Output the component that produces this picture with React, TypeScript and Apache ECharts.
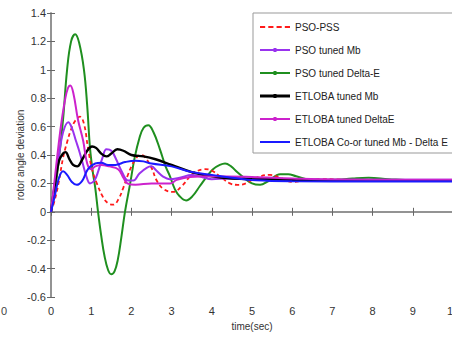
import React, { useEffect, useRef } from "react";
import * as echarts from "echarts";

const seriesNames = [
  "PSO-PSS",
  "PSO tuned Mb",
  "PSO tuned Delta-E",
  "ETLOBA tuned Mb",
  "ETLOBA tuned DeltaE",
  "ETLOBA Co-or tuned Mb - Delta E",
];

const psoPss: number[][] = [
  [0, 0], [0.1, 0.09], [0.2, 0.22], [0.3, 0.38], [0.4, 0.49], [0.5, 0.58], [0.6, 0.64], [0.72, 0.67],
  [0.82, 0.62], [0.92, 0.45], [1.02, 0.3], [1.14, 0.2], [1.3, 0.1], [1.42, 0.06], [1.55, 0.05],
  [1.68, 0.09], [1.8, 0.17], [1.9, 0.25], [2.0, 0.32], [2.1, 0.37], [2.22, 0.4], [2.32, 0.39],
  [2.5, 0.31], [2.63, 0.22], [2.8, 0.16], [3.04, 0.14], [3.25, 0.18], [3.54, 0.27], [3.83, 0.3],
  [4.0, 0.29], [4.2, 0.25], [4.45, 0.2], [4.65, 0.19], [4.85, 0.2], [5.1, 0.24], [5.45, 0.26],
  [5.7, 0.24], [6.0, 0.21], [6.3, 0.22], [6.7, 0.23], [7.5, 0.225], [8.5, 0.225], [10, 0.225],
];

const psoMb: number[][] = [
  [0, 0], [0.1, 0.2], [0.2, 0.4], [0.3, 0.56], [0.43, 0.63], [0.52, 0.59], [0.62, 0.5], [0.7, 0.43],
  [0.78, 0.35], [0.88, 0.25], [0.97, 0.2], [1.08, 0.22], [1.18, 0.29], [1.28, 0.38], [1.38, 0.44],
  [1.5, 0.43], [1.62, 0.37], [1.75, 0.29], [1.92, 0.22], [2.05, 0.22], [2.2, 0.27], [2.38, 0.31],
  [2.5, 0.32], [2.62, 0.29], [2.78, 0.25], [2.95, 0.23], [3.2, 0.24], [3.5, 0.26], [3.75, 0.245],
  [4.0, 0.23], [4.4, 0.235], [5, 0.235], [6, 0.23], [8, 0.225], [10, 0.225],
];

const psoDeltaE: number[][] = [
  [0, 0], [0.1, 0.15], [0.2, 0.38], [0.3, 0.65], [0.4, 1.0], [0.5, 1.2], [0.6, 1.25], [0.7, 1.19],
  [0.82, 1.0], [0.9, 0.75], [0.97, 0.45], [1.04, 0.28], [1.1, 0.17], [1.17, 0.0], [1.25, -0.17],
  [1.33, -0.31], [1.42, -0.41], [1.5, -0.44], [1.58, -0.42], [1.66, -0.34], [1.75, -0.18],
  [1.84, 0.0], [1.97, 0.2], [2.08, 0.38], [2.2, 0.52], [2.3, 0.59], [2.42, 0.61], [2.55, 0.56],
  [2.71, 0.44], [2.85, 0.32], [2.96, 0.25], [3.08, 0.16], [3.2, 0.11], [3.36, 0.08], [3.52, 0.11],
  [3.7, 0.18], [3.88, 0.25], [4.03, 0.3], [4.2, 0.33], [4.33, 0.34], [4.48, 0.32], [4.63, 0.28],
  [4.8, 0.24], [5.0, 0.2], [5.2, 0.19], [5.4, 0.215], [5.7, 0.265], [5.9, 0.265], [6.1, 0.25],
  [6.5, 0.225], [7.0, 0.225], [7.5, 0.235], [7.9, 0.24], [8.4, 0.23], [9, 0.222], [10, 0.222],
];

const etlobaMb: number[][] = [
  [0, 0], [0.1, 0.2], [0.2, 0.36], [0.3, 0.41], [0.36, 0.42], [0.46, 0.37], [0.55, 0.33],
  [0.65, 0.32], [0.78, 0.37], [0.9, 0.43], [1.02, 0.46], [1.12, 0.45], [1.25, 0.41], [1.38, 0.39],
  [1.5, 0.41], [1.65, 0.44], [1.8, 0.43], [2.0, 0.4], [2.3, 0.39], [2.6, 0.37], [3.0, 0.33],
  [3.5, 0.28], [4.0, 0.25], [4.5, 0.235], [5, 0.23], [6, 0.225], [8, 0.22], [10, 0.22],
];

const etlobaDeltaE: number[][] = [
  [0, 0], [0.1, 0.25], [0.2, 0.5], [0.27, 0.65], [0.35, 0.79], [0.42, 0.87], [0.48, 0.89],
  [0.56, 0.83], [0.67, 0.65], [0.8, 0.5], [0.9, 0.34], [1.0, 0.3], [1.1, 0.32], [1.25, 0.33],
  [1.45, 0.32], [1.67, 0.3], [1.8, 0.24], [1.9, 0.2], [2.1, 0.19], [2.5, 0.2], [2.96, 0.2],
  [3.13, 0.225], [3.46, 0.245], [4, 0.25], [5, 0.245], [6, 0.235], [7, 0.228], [10, 0.225],
];

const etlobaCoor: number[][] = [
  [0, 0], [0.1, 0.12], [0.2, 0.24], [0.3, 0.285], [0.4, 0.26], [0.52, 0.21], [0.64, 0.19],
  [0.78, 0.22], [0.92, 0.3], [1.1, 0.34], [1.25, 0.345], [1.42, 0.33], [1.6, 0.33], [1.84, 0.35],
  [2.1, 0.36], [2.3, 0.355], [2.5, 0.34], [3.0, 0.32], [3.5, 0.28], [4.0, 0.26], [4.5, 0.24],
  [5.1, 0.222], [6, 0.215], [8, 0.213], [10, 0.213],
];

const seriesData = [psoPss, psoMb, psoDeltaE, etlobaMb, etlobaDeltaE, etlobaCoor];
const seriesColors = ["#ff1a1a", "#9933ee", "#1f8f1f", "#000000", "#cc22cc", "#1a1aff"];
const seriesWidths = [1.8, 2, 2, 2.4, 2, 2];

const xTicks = { min: 0, max: 10, interval: 1 };
const yTicks = { min: -0.6, max: 1.4, interval: 0.2 };

const iconDashed = "path://M0 0H5V2H0Z M8 0H13V2H8Z M16 0H21V2H16Z M24 0H29V2H24Z";
const iconDot = "path://M0 1H30V3H0Z M13.5 0H16.5V4H13.5Z";
const iconThick = "path://M0 0.5H30V3.5H0Z M13.5 0H16.5V4H13.5Z";
const iconSolid = "path://M0 1H30V3H0Z M0 0H0.01V4H0Z";
const legendIcons = [iconDashed, iconDot, iconDot, iconThick, iconDot, iconSolid];

export default function App() {
  const ref = useRef<HTMLDivElement>(null);
  useEffect(() => {
    if (!ref.current) return;
    const chart = echarts.init(ref.current, null, { renderer: "svg" });
    const axisLine = { show: true, lineStyle: { color: "#8c8c8c", width: 1.5 } };
    const axisTick = { show: true, inside: true, length: 4, lineStyle: { color: "#666" } };
    const labelStyle = { color: "#333", fontSize: 11, fontFamily: "Liberation Sans, Arial, sans-serif" };
    chart.setOption({
      animation: false,
      backgroundColor: "#ffffff",
      grid: { left: 51, top: 13, width: 402, height: 284, containLabel: false, outerBoundsMode: "none" },
      legend: {
        left: 253,
        top: 13,
        orient: "vertical",
        itemWidth: 30,
        itemHeight: 4,
        itemGap: 13,
        padding: [9, 20, 6, 7],
        backgroundColor: "#ffffff",
        borderColor: "#999",
        borderWidth: 1,
        textStyle: { color: "#222", fontSize: 10, fontFamily: "Liberation Sans, Arial, sans-serif" },
        data: seriesNames.map((name, i) => ({ name, icon: legendIcons[i] })),
      },
      xAxis: [
        {
          type: "value",
          ...xTicks,
          name: "time(sec)",
          nameLocation: "middle",
          nameGap: 24,
          nameMoveOverlap: false,
          nameTextStyle: { ...labelStyle, fontSize: 10 },
          axisLine,
          axisTick,
          axisLabel: { ...labelStyle, margin: 8 },
          splitLine: { show: false },
        },
        {
          type: "value",
          ...xTicks,
          position: "top",
          axisLine,
          axisTick,
          axisLabel: { show: false },
          splitLine: { show: false },
        },
      ],
      yAxis: [
        {
          type: "value",
          ...yTicks,
          name: "rotor angle deviation",
          nameLocation: "middle",
          nameGap: 26,
          nameMoveOverlap: false,
          nameTextStyle: { ...labelStyle, fontSize: 10 },
          axisLine,
          axisTick,
          axisLabel: { ...labelStyle, margin: 5 },
          splitLine: { show: false },
        },
        {
          type: "value",
          ...yTicks,
          position: "right",
          axisLine,
          axisTick,
          axisLabel: { show: false },
          splitLine: { show: false },
        },
      ],
      series: seriesNames.map((name, i) => ({
        name,
        type: "line",
        data: seriesData[i],
        smooth: 0.4,
        symbol: "none",
        color: seriesColors[i],
        lineStyle: { color: seriesColors[i], width: seriesWidths[i], type: i === 0 ? [4, 3] : "solid" },
        z: [3, 4, 2, 5, 6, 7][i],
      })),
      graphic: [
        {
          type: "text",
          left: 1,
          top: 305,
          style: { text: "0", fill: "#444", fontSize: 11, fontFamily: "Liberation Sans, Arial, sans-serif" },
        },
      ],
    });
    return () => chart.dispose();
  }, []);
  return (
    <div
      ref={ref}
      style={{ position: "fixed", left: 0, top: 0, width: 452, height: 339, background: "#fff" }}
    />
  );
}
